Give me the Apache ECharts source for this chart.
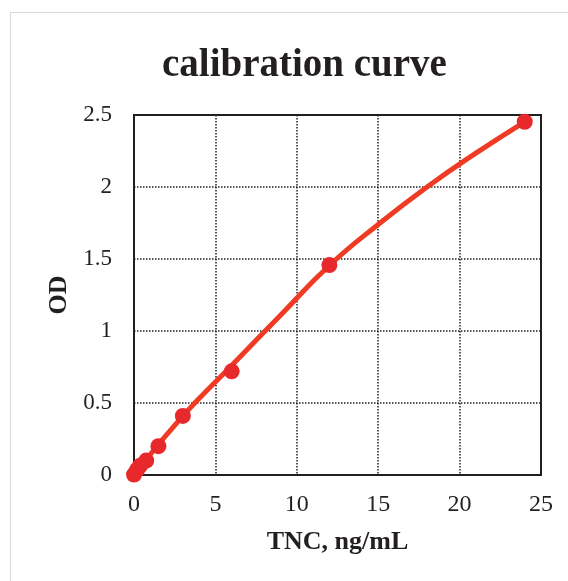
<!DOCTYPE html>
<html>
<head>
<meta charset="utf-8">
<script src="https://cdn.jsdelivr.net/npm/echarts@6/dist/echarts.min.js"></script>
<style>
  html, body { margin: 0; padding: 0; background: #fff; }
  .frame {
    position: absolute; left: 10px; top: 12px; width: 600px; height: 600px;
    border: 1px solid #d9d9d9; box-sizing: border-box;
  }
  #home { position: absolute; left: 0; top: 0; width: 568px; height: 581px; }
</style>
</head>
<body>
<div class="frame"></div>
<div id="home"></div>
<script>
  // measured standards: concentration (ng/mL) and optical density
  var conc = [0, 0.1875, 0.375, 0.75, 1.5, 3, 6, 12, 24];
  var od = [0.003, 0.035, 0.065, 0.10, 0.20, 0.41, 0.72, 1.458, 2.453];
  // the drawn trend curve at a few x positions
  var fitConc = [0, 3, 6, 9, 12, 15, 18, 21, 24];
  var fitOd = [0.0, 0.41, 0.76, 1.11, 1.455, 1.74, 2.0, 2.235, 2.453];
  var xTicks = [0, 5, 10, 15, 20, 25];
  var yTicks = [0, 0.5, 1, 1.5, 2, 2.5];

  var points = conc.map(function (c, i) { return [c, od[i]]; });
  var fitPoints = fitConc.map(function (c, i) { return [c, fitOd[i]]; });

  var serif = "Liberation Serif";
  var chart = echarts.init(document.getElementById("home"));
  var option = {
    animation: false,
    title: {
      text: "calibration curve",
      left: 157,
      top: 41,
      textStyle: { fontFamily: serif, fontWeight: "bold", fontSize: 39, color: "#231f20" }
    },
    grid: {
      left: 134, right: 27, top: 115, bottom: 106,
      show: true, borderColor: "#231f20", borderWidth: 2
    },
    xAxis: {
      type: "value",
      min: xTicks[0], max: xTicks[xTicks.length - 1], interval: 5,
      name: "TNC, ng/mL",
      nameLocation: "middle",
      nameGap: 54,
      nameTextStyle: { fontFamily: serif, fontWeight: "bold", fontSize: 26, color: "#231f20" },
      axisLine: { lineStyle: { color: "#231f20", width: 2 } },
      axisTick: { show: false },
      axisLabel: { fontFamily: serif, fontSize: 24, color: "#231f20", margin: 18 },
      splitLine: { lineStyle: { type: "dotted", color: "#231f20", width: 1.5 } }
    },
    yAxis: {
      type: "value",
      min: yTicks[0], max: yTicks[yTicks.length - 1], interval: 0.5,
      name: "OD",
      nameLocation: "middle",
      nameGap: 60,
      nameTextStyle: { fontFamily: serif, fontWeight: "bold", fontSize: 26, color: "#231f20" },
      axisLine: { lineStyle: { color: "#231f20", width: 2 } },
      axisTick: { show: false },
      axisLabel: { fontFamily: serif, fontSize: 23, color: "#231f20", margin: 22 },
      splitLine: { lineStyle: { type: "dotted", color: "#231f20", width: 1.5 } }
    },
    series: [
      {
        type: "line",
        data: fitPoints,
        smooth: 0.5,
        showSymbol: false,
        lineStyle: { color: "#ef3b24", width: 5, cap: "round" },
        z: 2
      },
      {
        type: "scatter",
        data: points,
        symbol: "circle",
        symbolSize: 16,
        itemStyle: { color: "#e8292b", opacity: 1 },
        z: 3
      }
    ]
  };
  chart.setOption(option);
</script>
</body>
</html>
